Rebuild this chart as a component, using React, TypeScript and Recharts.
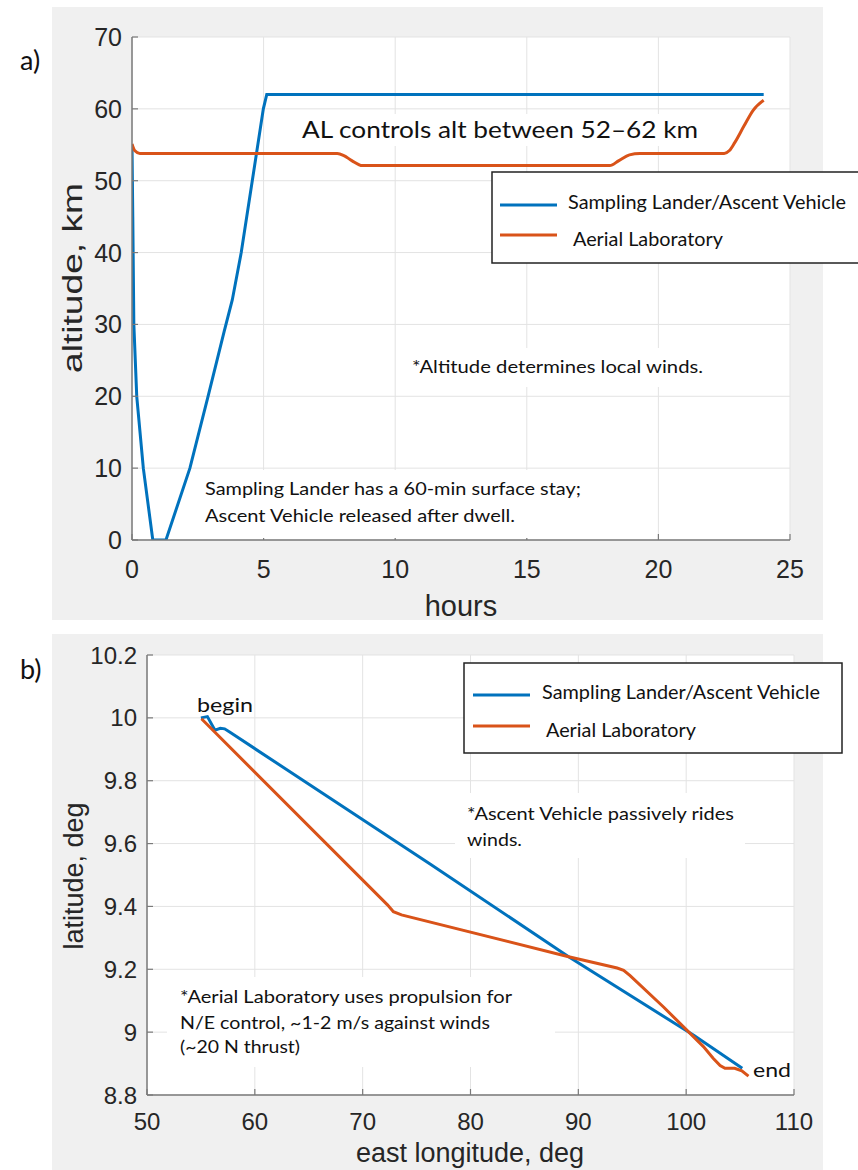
import { LineChart, Line, XAxis, YAxis, CartesianGrid } from "recharts";

const BLUE = "#0072BD";
const ORANGE = "#D95319";
const AXIS = "#7a7a7a";
const GRID = "#e3e3e3";
const TICK_TEXT = "#262626";
const PANEL_BG = "#f0f0f0";
const SANS = "'Liberation Sans', Arial, sans-serif";
const NOTE = "Lato, 'Open Sans', sans-serif";

// a) altitude vs time
const hourTicks = [0, 5, 10, 15, 20, 25];
const altTicks = [0, 10, 20, 30, 40, 50, 60, 70];
const landerHours = [0, 0.03, 0.07, 0.18, 0.43, 0.79, 1.29, 2.2, 2.89, 3.5, 3.81, 4.15, 4.57, 4.99, 5.12, 24];
const landerAlt = [55, 45, 30, 20, 10, 0, 0, 10, 20, 29, 33.4, 40, 50, 60, 62, 62];
const labHours = [0, 0.1, 0.3, 7.8, 8.05, 8.35, 8.75, 18.15, 18.5, 18.9, 19.3, 22.5, 22.7, 22.9, 23.25, 23.6, 24];
const labAlt = [55.1, 54.2, 53.8, 53.8, 53.5, 52.8, 52.1, 52.1, 52.8, 53.6, 53.8, 53.8, 54.2, 55.3, 57.6, 59.8, 61.2];

// b) ground track
const lonTicks = [50, 60, 70, 80, 90, 100, 110];
const latTicks = [8.8, 9, 9.2, 9.4, 9.6, 9.8, 10, 10.2];
const landerLon = [55.0, 55.6, 56.3, 56.8, 57.2, 57.7, 76.25, 89.1, 100.7, 105.2];
const landerLat = [10.0, 10.004, 9.961, 9.967, 9.965, 9.954, 9.535, 9.24, 8.99, 8.885];
const labLon = [55.05, 72.3, 72.85, 73.6, 89.1, 93.6, 94.2, 94.8, 97.9, 101.6, 102.5, 103.15, 103.6, 104.5, 105.16, 105.78];
const labLat = [9.997, 9.405, 9.383, 9.373, 9.24, 9.204, 9.197, 9.18, 9.08, 8.954, 8.917, 8.894, 8.885, 8.885, 8.877, 8.86];

const zip = (xs: number[], ys: number[]) => xs.map((x, i) => ({ x, y: ys[i] }));

const landerA = zip(landerHours, landerAlt);
const labA = zip(labHours, labAlt);
const landerB = zip(landerLon, landerLat);
const labB = zip(labLon, labLat);

// MATLAB style: ticks point into the plot box, labels sit outside
function BottomTick(p: any) {
  return (
    <g>
      <line x1={p.x} y1={p.y} x2={p.x} y2={p.y - 6} stroke={AXIS} strokeWidth={1.2} />
      <text x={p.x} y={p.y + p.dy} textAnchor="middle" fontSize={p.size} fill={TICK_TEXT} fontFamily={SANS}>
        {String(p.payload.value)}
      </text>
    </g>
  );
}

function LeftTick(p: any) {
  return (
    <g>
      <line x1={p.x} y1={p.y} x2={p.x + 6} y2={p.y} stroke={AXIS} strokeWidth={1.2} />
      <text x={p.x - 10} y={p.y + p.size * 0.36} textAnchor="end" fontSize={p.size} fill={TICK_TEXT} fontFamily={SANS}>
        {String(p.payload.value)}
      </text>
    </g>
  );
}

function TopTick(p: any) {
  return <line x1={p.x} y1={p.y} x2={p.x} y2={p.y + 6} stroke={AXIS} strokeWidth={1.2} />;
}

function RightTick(p: any) {
  return <line x1={p.x} y1={p.y} x2={p.x - 6} y2={p.y} stroke={AXIS} strokeWidth={1.2} />;
}

const axisLine = { stroke: AXIS, strokeWidth: 1.5 };

function Note({ x, y, len, size = 18, children }: any) {
  return (
    <text x={x} y={y} fontSize={size} fill="#111" fontFamily={NOTE} textLength={len} lengthAdjust="spacingAndGlyphs">
      {children}
    </text>
  );
}

function LegendBox({ x, y, w, h, blueY, orangeY, lx1, lx2, t1x, t1y, t2x, t2y }: any) {
  return (
    <g>
      <rect x={x} y={y} width={w} height={h} fill="#fff" stroke="#222" strokeWidth={1.5} />
      <line x1={lx1} x2={lx2} y1={blueY} y2={blueY} stroke={BLUE} strokeWidth={3} />
      <line x1={lx1} x2={lx2} y1={orangeY} y2={orangeY} stroke={ORANGE} strokeWidth={3} />
      <Note x={t1x} y={t1y} len={278} size={19}>Sampling Lander/Ascent Vehicle</Note>
      <Note x={t2x} y={t2y} len={150} size={19}>Aerial Laboratory</Note>
    </g>
  );
}

export default function App() {
  return (
    <div style={{ position: "absolute", left: 0, top: 0, width: 858, height: 1170, background: "#fff", overflow: "hidden" }}>
      <div style={{ position: "absolute", left: 52, top: 7, width: 771, height: 613, background: PANEL_BG }} />
      <div style={{ position: "absolute", left: 52, top: 634, width: 771, height: 536, background: PANEL_BG }} />

      {/* a) altitude */}
      <div style={{ position: "absolute", left: 0, top: 0 }}>
        <LineChart width={858} height={620} margin={{ top: 37, right: 68, bottom: 0, left: 52 }}>
          <CartesianGrid stroke={GRID} fill="#fff" />
          <XAxis
            dataKey="x"
            type="number"
            domain={[0, 25]}
            ticks={hourTicks}
            interval={0}
            height={80}
            tickSize={0}
            tickMargin={0}
            axisLine={axisLine}
            tickLine={false}
            allowDataOverflow
            tick={(p: any) => <BottomTick {...p} dy={38} size={25} />}
          />
          <XAxis xAxisId="t" orientation="top" type="number" domain={[0, 25]} ticks={hourTicks} interval={0}
            height={0} tickSize={0} tickMargin={0} axisLine={axisLine} tickLine={false} tick={(p: any) => <TopTick {...p} />} />
          <YAxis
            type="number"
            domain={[0, 70]}
            ticks={altTicks}
            interval={0}
            width={80}
            tickSize={0}
            tickMargin={0}
            axisLine={axisLine}
            tickLine={false}
            allowDataOverflow
            tick={(p: any) => <LeftTick {...p} size={25} />}
          />
          <YAxis yAxisId="r" orientation="right" type="number" domain={[0, 70]} ticks={altTicks} interval={0}
            width={0} tickSize={0} tickMargin={0} axisLine={axisLine} tickLine={false} tick={(p: any) => <RightTick {...p} />} />
          <Line data={landerA} dataKey="y" type="linear" stroke={BLUE} strokeWidth={3} dot={false} isAnimationActive={false} />
          <Line data={labA} dataKey="y" type="monotone" stroke={ORANGE} strokeWidth={3} dot={false} isAnimationActive={false} />
        </LineChart>
      </div>

      {/* b) ground track */}
      <div style={{ position: "absolute", left: 0, top: 620 }}>
        <LineChart width={858} height={550} margin={{ top: 35, right: 64, bottom: 0, left: 67 }}>
          <CartesianGrid stroke={GRID} fill="#fff" />
          <XAxis
            dataKey="x"
            type="number"
            domain={[50, 110]}
            ticks={lonTicks}
            interval={0}
            height={75}
            tickSize={0}
            tickMargin={0}
            axisLine={axisLine}
            tickLine={false}
            allowDataOverflow
            tick={(p: any) => <BottomTick {...p} dy={35} size={24} />}
          />
          <XAxis xAxisId="t" orientation="top" type="number" domain={[50, 110]} ticks={lonTicks} interval={0}
            height={0} tickSize={0} tickMargin={0} axisLine={axisLine} tickLine={false} tick={(p: any) => <TopTick {...p} />} />
          <YAxis
            type="number"
            domain={[8.8, 10.2]}
            ticks={latTicks}
            interval={0}
            width={80}
            tickSize={0}
            tickMargin={0}
            axisLine={axisLine}
            tickLine={false}
            allowDataOverflow
            tick={(p: any) => <LeftTick {...p} size={24} />}
          />
          <YAxis yAxisId="r" orientation="right" type="number" domain={[8.8, 10.2]} ticks={latTicks} interval={0}
            width={0} tickSize={0} tickMargin={0} axisLine={axisLine} tickLine={false} tick={(p: any) => <RightTick {...p} />} />
          <Line data={landerB} dataKey="y" type="linear" stroke={BLUE} strokeWidth={3} dot={false} isAnimationActive={false} />
          <Line data={labB} dataKey="y" type="linear" stroke={ORANGE} strokeWidth={3} dot={false} isAnimationActive={false} />
        </LineChart>
      </div>

      {/* labels, notes and legends */}
      <svg width={858} height={1170} style={{ position: "absolute", left: 0, top: 0, pointerEvents: "none" }}>
        <text x={20} y={70} fontSize={27} fill="#111" fontFamily={NOTE}>a)</text>
        <text x={20} y={679} fontSize={27} fill="#111" fontFamily={NOTE}>b)</text>

        <text x={461} y={616} textAnchor="middle" fontSize={29} fill={TICK_TEXT} fontFamily={SANS}>hours</text>
        <text transform="translate(82,278) rotate(-90)" textAnchor="middle" fontSize={27} fill={TICK_TEXT} fontFamily={SANS}
          textLength={190} lengthAdjust="spacingAndGlyphs">altitude, km</text>
        <text x={470} y={1162} textAnchor="middle" fontSize={27} fill={TICK_TEXT} fontFamily={SANS}>east longitude, deg</text>
        <text transform="translate(83,876) rotate(-90)" textAnchor="middle" fontSize={27} fill={TICK_TEXT} fontFamily={SANS}>latitude, deg</text>

        <rect x={296} y={114} width={408} height={32} fill="#fff" />
        <Note x={302} y={138} len={396} size={23}>AL controls alt between 52–62 km</Note>

        <rect x={405} y={348} width={304} height={39} fill="#fff" />
        <Note x={412} y={373} len={291}>*Altitude determines local winds.</Note>

        <rect x={199} y={470} width={388} height={68} fill="#fff" />
        <Note x={205} y={495} len={376}>Sampling Lander has a 60-min surface stay;</Note>
        <Note x={205} y={522} len={310}>Ascent Vehicle released after dwell.</Note>

        <LegendBox x={492} y={172} w={380} h={91} blueY={205} orangeY={235} lx1={500} lx2={557}
          t1x={568} t1y={209} t2x={573} t2y={246} />

        <Note x={197} y={712} len={56} size={19}>begin</Note>
        <Note x={753} y={1077} len={38} size={19}>end</Note>

        <rect x={455} y={793} width={290} height={65} fill="#fff" />
        <Note x={467} y={820} len={267}>*Ascent Vehicle passively rides</Note>
        <Note x={467} y={846} len={55}>winds.</Note>

        <rect x={167} y={977} width={388} height={90} fill="#fff" />
        <Note x={180} y={1003} len={332}>*Aerial Laboratory uses propulsion for</Note>
        <Note x={180} y={1029} len={310}>N/E control, ~1-2 m/s against winds</Note>
        <Note x={180} y={1053} len={120}>(~20 N thrust)</Note>

        <LegendBox x={464} y={663} w={378} h={90} blueY={695} orangeY={726} lx1={473} lx2={530}
          t1x={542} t1y={699} t2x={546} t2y={737} />
      </svg>
    </div>
  );
}
